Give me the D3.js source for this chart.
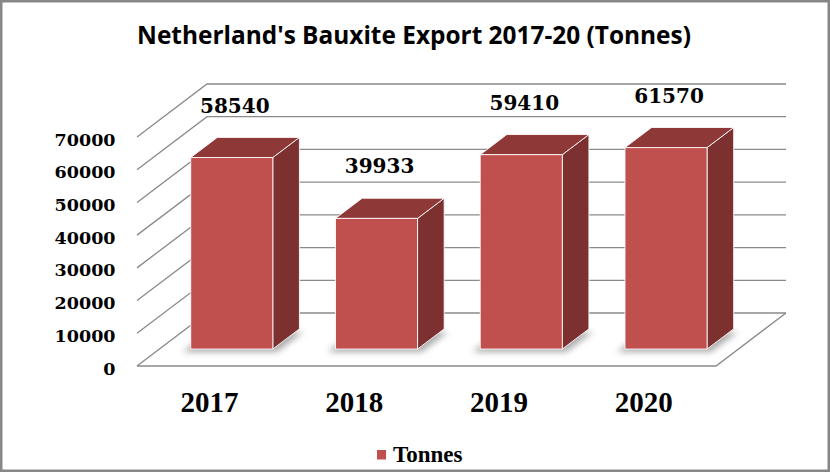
<!DOCTYPE html>
<html>
<head>
<meta charset="utf-8">
<script src="https://cdnjs.cloudflare.com/ajax/libs/d3/7.8.5/d3.min.js"></script>
<style>
  body { margin: 0; background: #fff; }
  svg { display: block; }
</style>
</head>
<body>
<script>
var years = ['2017', '2018', '2019', '2020'];
var tonnes = [58540, 39933, 59410, 61570];
var yTicks = [0, 10000, 20000, 30000, 40000, 50000, 60000, 70000];
var seriesName = 'Tonnes';
var chartTitle = "Netherland's Bauxite Export 2017-20 (Tonnes)";

var w = 830,
    h = 472;

// front edge of the floor and the depth vector of the 3d box
var floorLeft = 137,
    floorRight = 716,
    floorY = 366,
    topY = 137,
    depthX = 70,
    depthY = -53;

// bars sit between these depth fractions
var barZ0 = 0.32,
    barZ1 = 0.70;

var gridColor = '#8a8a8a',
    frontColor = '#c0504d',
    sideColor = '#7c3030',
    topColor = '#8e3938';

var svg = d3.select('body').append('svg')
  .attr('width', w)
  .attr('height', h);

var x = d3.scaleBand()
  .domain(years)
  .range([floorLeft, floorRight])
  .paddingInner(0.433)
  .paddingOuter(0.2165);

var xCat = d3.scaleBand()
  .domain(years)
  .range([floorLeft, floorRight]);

var y = d3.scaleLinear()
  .domain([0, 70000])
  .range([floorY, topY]);

function proj(px, v, z) {
  return [px + z * depthX, y(v) + z * depthY];
}

function pts(list) {
  return list.map(function(p) { return p.join(','); }).join(' ');
}

var defs = svg.append('defs');
defs.append('filter')
  .attr('id', 'shadow')
  .attr('x', '-30%').attr('y', '-30%')
  .attr('width', '160%').attr('height', '160%')
  .append('feGaussianBlur')
    .attr('stdDeviation', 3);

// chart frame
svg.append('rect')
  .attr('x', 1.25)
  .attr('y', 1.25)
  .attr('width', w - 2.5)
  .attr('height', h - 2.5)
  .attr('fill', '#fff')
  .attr('stroke', '#878787')
  .attr('stroke-width', 2.5);

// side wall + back wall gridlines
svg.append('g').selectAll('path')
  .data(yTicks)
  .enter()
  .append('path')
    .attr('d', function(t) {
      return 'M' + proj(floorLeft, t, 0) + 'L' + proj(floorLeft, t, 1) + 'L' + proj(floorRight, t, 1);
    })
    .attr('fill', 'none')
    .attr('stroke', gridColor)
    .attr('stroke-width', 1.3);

// floor edges
svg.append('path')
  .attr('d', 'M' + proj(floorLeft, 0, 0) + 'L' + proj(floorRight, 0, 0) + 'L' + proj(floorRight, 0, 1))
  .attr('fill', 'none')
  .attr('stroke', gridColor)
  .attr('stroke-width', 1.3);

// soft shadows on the floor
svg.append('g').selectAll('polygon')
  .data(years)
  .enter()
  .append('polygon')
    .attr('points', function(d) {
      var x0 = x(d) - 8, x1 = x(d) + x.bandwidth() + 4;
      return pts([proj(x0, 0, barZ0), proj(x1, 0, barZ0), proj(x1, 0, barZ1), proj(x0, 0, barZ1)]);
    })
    .attr('transform', 'translate(0,3)')
    .attr('fill', '#8f8f8f')
    .attr('opacity', 0.75)
    .attr('filter', 'url(#shadow)');

var bars = svg.append('g').selectAll('g')
  .data(years)
  .enter()
  .append('g');

bars.append('polygon')
  .attr('points', function(d, i) {
    var x1 = x(d) + x.bandwidth(), v = tonnes[i];
    return pts([proj(x1, 0, barZ0), proj(x1, 0, barZ1), proj(x1, v, barZ1), proj(x1, v, barZ0)]);
  })
  .attr('fill', sideColor);

bars.append('polygon')
  .attr('points', function(d, i) {
    var x0 = x(d), x1 = x(d) + x.bandwidth(), v = tonnes[i];
    return pts([proj(x0, v, barZ0), proj(x1, v, barZ0), proj(x1, v, barZ1), proj(x0, v, barZ1)]);
  })
  .attr('fill', topColor);

bars.append('polygon')
  .attr('points', function(d, i) {
    var x0 = x(d), x1 = x(d) + x.bandwidth(), v = tonnes[i];
    return pts([proj(x0, 0, barZ0), proj(x1, 0, barZ0), proj(x1, v, barZ0), proj(x0, v, barZ0)]);
  })
  .attr('fill', frontColor);

bars.selectAll('polygon')
  .attr('stroke', '#fff')
  .attr('stroke-opacity', 0.85)
  .attr('stroke-width', 1)
  .attr('stroke-linejoin', 'round');

// value labels
svg.append('g').selectAll('text')
  .data(years)
  .enter()
  .append('text')
    .text(function(d, i) { return tonnes[i]; })
    .attr('x', function(d) { return x(d) + x.bandwidth() / 2 + barZ0 * depthX + 3; })
    .attr('y', function(d, i) { return proj(0, tonnes[i], barZ0)[1] - 45; })
    .attr('text-anchor', 'middle')
    .style('font-family', 'DejaVu Serif')
    .style('font-weight', 'bold')
    .style('font-size', '20px');

// y axis labels
svg.append('g').selectAll('text')
  .data(yTicks)
  .enter()
  .append('text')
    .text(function(d) { return d; })
    .attr('x', 115.5)
    .attr('y', function(d) { return y(d) + 8.5; })
    .attr('text-anchor', 'end')
    .style('font-family', 'DejaVu Serif')
    .style('font-weight', 'bold')
    .style('font-size', '17.5px');

// category labels
svg.append('g').selectAll('text')
  .data(years)
  .enter()
  .append('text')
    .text(function(d) { return d; })
    .attr('x', function(d) { return xCat(d) + xCat.bandwidth() / 2; })
    .attr('y', 412)
    .attr('text-anchor', 'middle')
    .style('font-family', 'Liberation Serif')
    .style('font-weight', 'bold')
    .style('font-size', '29px');

// title, sized so it spans the same width as the original
var titleText = svg.append('text')
  .text(chartTitle)
  .attr('x', 414)
  .attr('y', 44)
  .attr('text-anchor', 'middle')
  .style('font-family', 'Open Sans')
  .style('font-weight', 'bold')
  .style('font-size', '22px');
var titleLen = titleText.node().getComputedTextLength();
titleText.style('font-size', (22 * 554 / titleLen) + 'px');

// legend
var legend = svg.append('g').attr('transform', 'translate(377,450)');
legend.append('rect')
  .attr('width', 9)
  .attr('height', 9.5)
  .attr('fill', frontColor);
legend.append('text')
  .text(seriesName)
  .attr('x', 16)
  .attr('y', 12)
  .style('font-family', 'Liberation Serif')
  .style('font-weight', 'bold')
  .style('font-size', '23px');
</script>
</body>
</html>
